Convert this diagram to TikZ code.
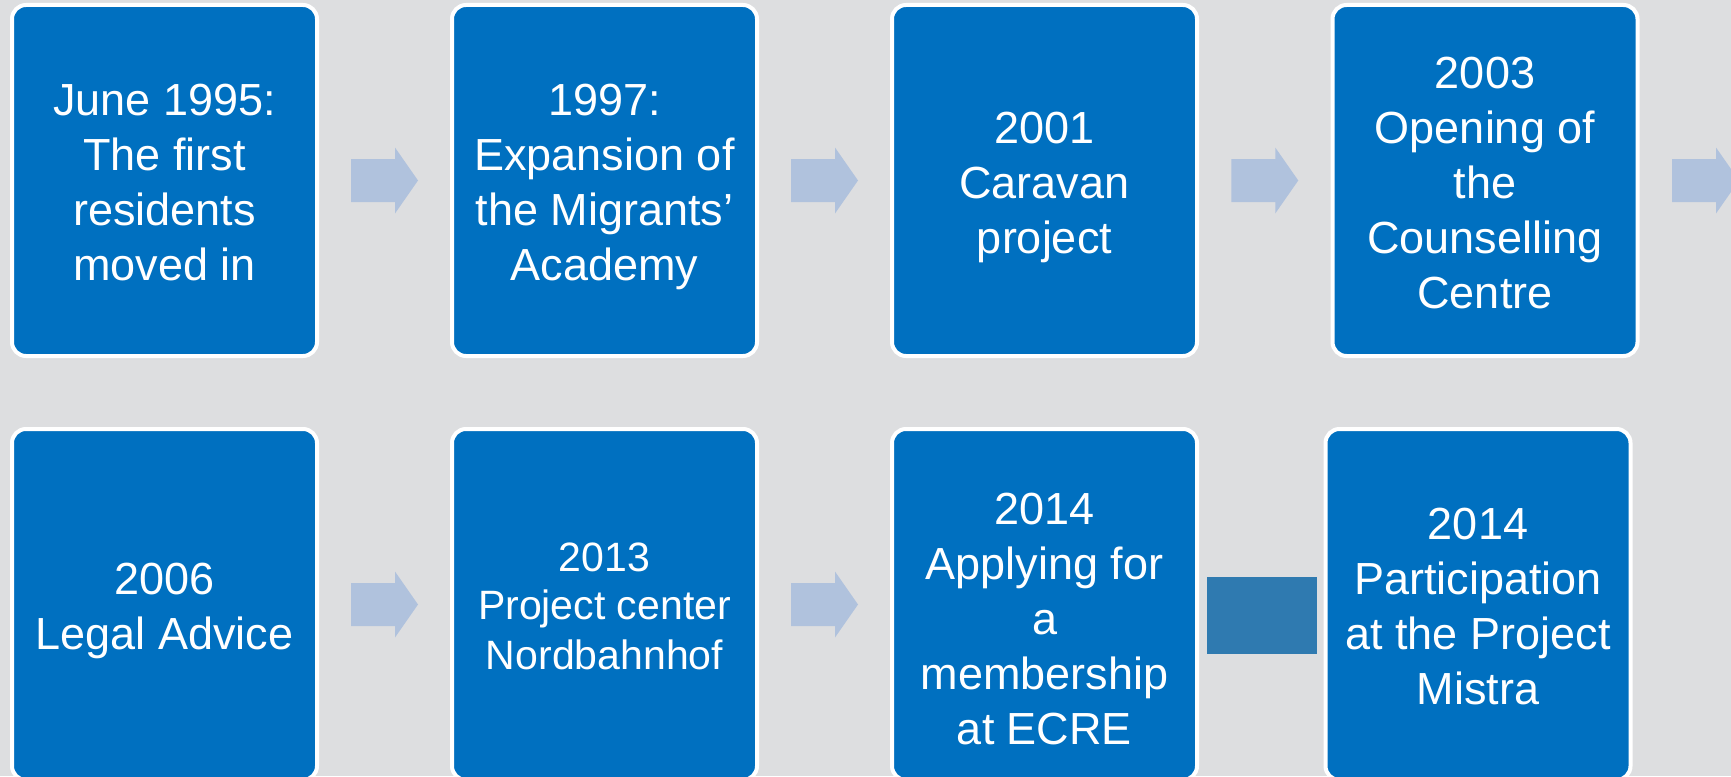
\documentclass[tikz,border=0pt]{standalone}
\usepackage{fontspec}
\setmainfont{Liberation Sans}
\usetikzlibrary{calc}
\definecolor{bgc}{HTML}{DDDEE0}
\definecolor{boxc}{HTML}{0070C0}
\definecolor{arrc}{HTML}{B0C2DD}
\definecolor{picc}{HTML}{2F7AB0}
\newcommand\st{\rule[-10pt]{0pt}{55pt}}
\newcommand\sst{\rule[-8.5pt]{0pt}{48.5pt}}
\tikzset{
  steptext/.style={text=white, align=center, font=\fontsize{45}{55}\selectfont, inner sep=0pt},
  stepbox/.style={rectangle, draw=white, line width=4pt, fill=boxc, rounded corners=14pt,
    minimum width=305pt, minimum height=351pt, steptext},
  smalltext/.style={font=\fontsize{41}{48.5}\selectfont},
  blockarrow/.style={fill=arrc},
  picbox/.style={rectangle, fill=picc, minimum width=110pt, minimum height=77pt, inner sep=0pt},
}
\newcommand\blkarrow[1]{\fill[blockarrow] ($(#1)+(-33.5,-21.5)$) -- ++(44,0) -- ++(0,-11.5) -- ++(23,33) -- ++(-23,33) -- ++(0,-11.5) -- ++(-44,0) -- cycle;}
\begin{document}
\begin{tikzpicture}[x=1pt,y=-1pt]
\useasboundingbox (0,0) rectangle (1731,776);
\fill[bgc] (0,0) rectangle (1731,776);
% top row
\node[stepbox] (b1) at (164.5,180.5) {\st June 1995:\\\st The first\\\st residents\\\st moved in};
\node[stepbox] (b2) at (604.5,180.5) {\st 1997:\\\st Expansion of\\\st the Migrants’\\\st Academy};
\node[stepbox] (b3) at (1044.5,180.5) {\st 2001\\\st Caravan\\\st project};
\node[stepbox] (b4) at (1485,180.5) {\st 2003\\\st Opening of\\\st the\\\st Counselling\\\st Centre};
% bottom row
\node[stepbox] (b5) at (164.5,604.5) {\st 2006\\\st Legal Advice};
\node[stepbox, smalltext] (b6) at (604.5,604.5) {\sst 2013\\\sst Project center\\\sst Nordbahnhof};
\node[stepbox] (b7) at (1044.5,604.5) {};
\node[steptext] (t7) at ($(b7.center)+(0,12)$) {\st 2014\\\st Applying for\\\st a\\\st membership\\\st at ECRE};
\node[stepbox] (b8) at (1478,604.5) {\st 2014\\\st Participation\\\st at the Project\\\st Mistra};
% picture placeholder between b7 and b8
\node[picbox] (pic) at (1262,615.5) {};
% arrows
\coordinate (a1) at ($(b1.east)!0.5!(b2.west)$);
\coordinate (a2) at ($(b2.east)!0.5!(b3.west)$);
\coordinate (a3) at ($(b3.east)!0.5!(b4.west)$);
\coordinate (a4) at ($(b4.east)+(66,0)$);
\coordinate (a5) at ($(b5.east)!0.5!(b6.west)$);
\coordinate (a6) at ($(b6.east)!0.5!(b7.west)$);
\blkarrow{a1}
\blkarrow{a2}
\blkarrow{a3}
\blkarrow{a4}
\blkarrow{a5}
\blkarrow{a6}
\end{tikzpicture}
\end{document}
